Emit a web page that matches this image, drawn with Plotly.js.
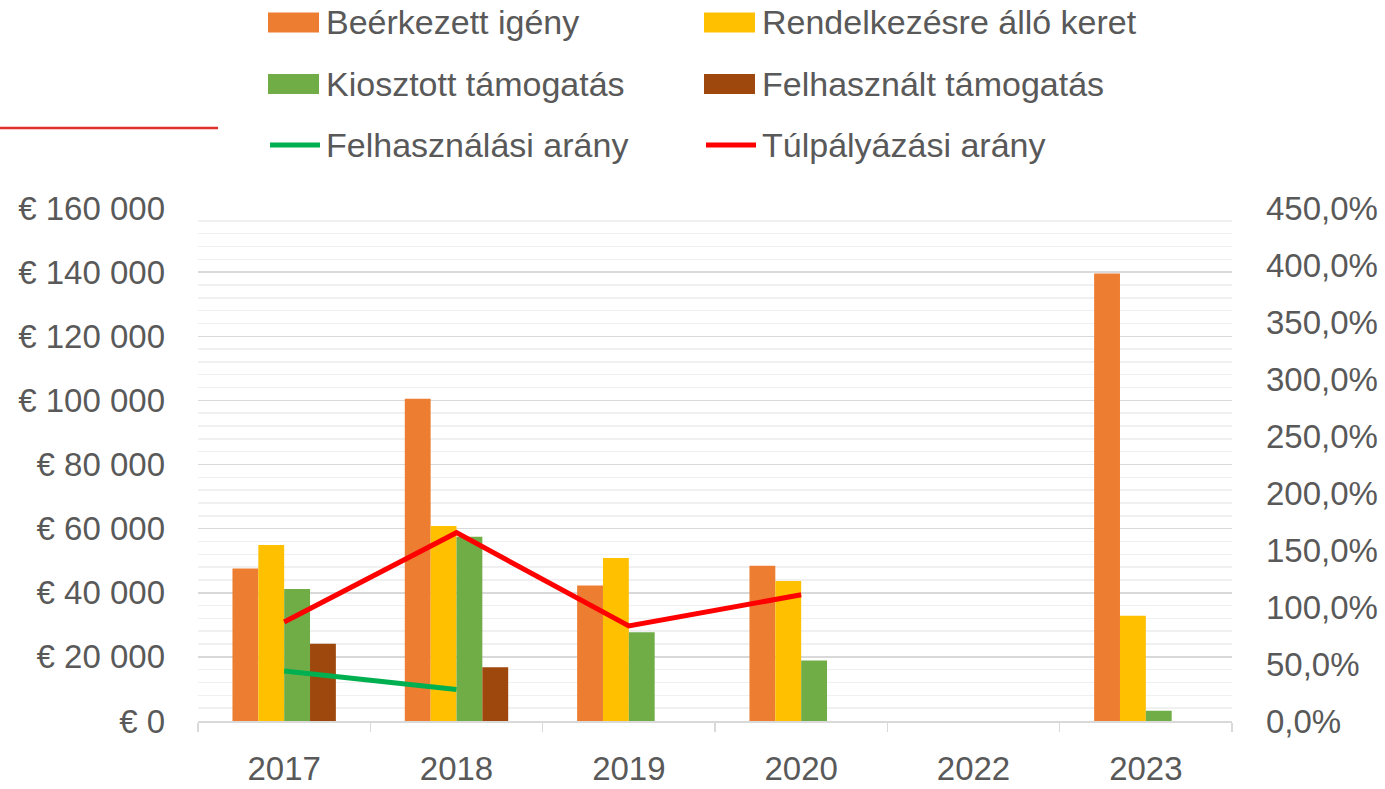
<!DOCTYPE html>
<html>
<head>
<meta charset="utf-8">
<script src="https://cdn.plot.ly/plotly-3.0.1.min.js"></script>
<style>
  html, body { margin: 0; padding: 0; background: #ffffff; }
  #chart { width: 1385px; height: 789px; }
</style>
</head>
<body>
<div id="chart"></div>
<script>
// ---- data ----
const years = ["2017", "2018", "2019", "2020", "2022", "2023"];
const beerkezettIgeny = [47600, 100500, 42300, 48400, null, 139600];
const rendelkezesreAlloKeret = [54900, 60800, 50800, 43700, null, 32800];
const kiosztottTamogatas = [41200, 57500, 27700, 18900, null, 3200];
const felhasznaltTamogatas = [24100, 16800, null, null, null, null];
const felhasznalasiArany = [43.8, 27.6, null, null, null, null];
const tulpalyazasiArany = [86.8, 165.2, 83.4, 110.7, null, null];

const seriesNames = ["Beérkezett igény", "Rendelkezésre álló keret", "Kiosztott támogatás",
                     "Felhasznált támogatás", "Felhasználási arány", "Túlpályázási arány"];
const seriesColors = ["#ED7D31", "#FFC000", "#70AD47", "#9E480E", "#00B050", "#FF0000"];
const leftAxisMax = 160000, leftAxisStep = 20000, leftMinorStep = 4000;
const rightAxisMax = 450, rightAxisStep = 50;

const FONT = "Liberation Sans, Arial, sans-serif";
const TXT = "#595959";

const barSeries = [beerkezettIgeny, rendelkezesreAlloKeret, kiosztottTamogatas, felhasznaltTamogatas];
const traces = barSeries.map((vals, i) => ({
  type: "bar", x: years, y: vals, name: seriesNames[i],
  marker: { color: seriesColors[i] }, showlegend: false, hoverinfo: "x+y+name"
}));
traces.push({
  type: "scatter", mode: "lines", x: years, y: felhasznalasiArany, yaxis: "y2",
  name: seriesNames[4], line: { color: seriesColors[4], width: 5 }, showlegend: false
});
traces.push({
  type: "scatter", mode: "lines", x: years, y: tulpalyazasiArany, yaxis: "y2",
  name: seriesNames[5], line: { color: seriesColors[5], width: 5 }, showlegend: false
});

// ---- layout geometry ----
const W = 1385, H = 789;
const M = { l: 198, r: 153, t: 208, b: 68 };
const PW = W - M.l - M.r, PH = H - M.t - M.b;
const px = x => (x - M.l) / PW;
const py = y => (H - M.b - y) / PH;

// manual legend (2 columns x 3 rows)
const legCol = [268, 704];
const legRow = [22.5, 84, 145];
const shapes = [];
const annotations = [];
seriesNames.forEach((name, i) => {
  const c = i % 2, r = Math.floor(i / 2);
  const x0 = legCol[c], yc = legRow[r];
  if (i < 4) {
    shapes.push({ type: "rect", xref: "paper", yref: "paper",
      x0: px(x0), x1: px(x0 + 51), y0: py(yc - 10), y1: py(yc + 10),
      fillcolor: seriesColors[i], line: { width: 0 } });
  } else {
    shapes.push({ type: "line", xref: "paper", yref: "paper",
      x0: px(x0 + 2), x1: px(x0 + 52), y0: py(yc), y1: py(yc),
      line: { color: seriesColors[i], width: 5 } });
  }
  annotations.push({ xref: "paper", yref: "paper", x: px(x0 + 56), y: py(yc),
    xanchor: "left", yanchor: "middle", showarrow: false, text: name,
    font: { family: FONT, size: 34, color: TXT } });
});
// decorative red rule at top-left
shapes.push({ type: "line", xref: "paper", yref: "paper",
  x0: px(0), x1: px(218), y0: py(128), y1: py(128),
  line: { color: "#E0302E", width: 2.5 } });

const layout = {
  width: W, height: H,
  margin: M,
  paper_bgcolor: "#ffffff", plot_bgcolor: "#ffffff",
  separators: ", ",
  font: { family: FONT, size: 33, color: TXT },
  barmode: "group", bargap: 0.4, bargroupgap: 0,
  showlegend: false,
  xaxis: {
    type: "category", showgrid: false, zeroline: false,
    showline: true, linecolor: "#d9d9d9", linewidth: 1.5,
    ticks: "outside", tickson: "boundaries", ticklen: 9, tickcolor: "#d9d9d9", tickwidth: 1.5,
    ticklabelstandoff: 18,
    tickfont: { family: FONT, size: 33, color: TXT }
  },
  yaxis: {
    range: [0, leftAxisMax], tickmode: "linear", tick0: 0, dtick: leftAxisStep,
    tickformat: ",.0f", tickprefix: "€ ", showtickprefix: "all",
    showgrid: true, gridcolor: "#d9d9d9", gridwidth: 1.5, zeroline: false,
    showline: false, ticks: "", ticklabelstandoff: 32,
    minor: { dtick: leftMinorStep, showgrid: true, gridcolor: "#f0f0f0", gridwidth: 1.5, ticks: "" },
    tickfont: { family: FONT, size: 33, color: TXT }
  },
  yaxis2: {
    overlaying: "y", side: "right", range: [0, rightAxisMax], tickmode: "linear", tick0: 0, dtick: rightAxisStep,
    tickformat: ".1f", ticksuffix: "%", showticksuffix: "all", showgrid: false, zeroline: false,
    showline: false, ticks: "", ticklabelstandoff: 33,
    tickfont: { family: FONT, size: 33, color: TXT }
  },
  shapes: shapes,
  annotations: annotations
};

Plotly.newPlot("chart", traces, layout, { displayModeBar: false, staticPlot: true });
</script>
</body>
</html>
